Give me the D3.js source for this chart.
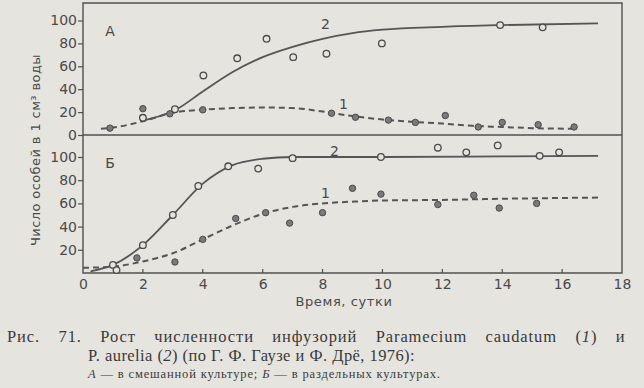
<!DOCTYPE html>
<html>
<head>
<meta charset="utf-8">
<script src="https://cdn.jsdelivr.net/npm/d3@7"></script>
<style>
  body { margin: 0; background: #e6e4df; }
  svg { display: block; }
  .sans { font-family: "DejaVu Sans", sans-serif; fill: #4a4a4a; }
  .serif { font-family: "Liberation Serif", serif; fill: #3a3a3a; }
</style>
</head>
<body>
<svg id="chart" width="644" height="388"></svg>
<script>
// days on the x axis (individuals per 1 cm3)
var xTicks = [0, 2, 4, 6, 8, 10, 12, 14, 16, 18];
var yTicksA = [0, 20, 40, 60, 80, 100];
var yTicksB = [20, 40, 60, 80, 100];

// A - mixed culture
var aAureliaPts = [[2.0,15],[3.07,22.5],[4.02,52],[5.15,67],[6.13,84],[7.02,68],[8.13,71],[9.98,80],[13.93,96],[15.35,94]];
var aAureliaCurve = [[2,12.5],[3.1,22],[4,38],[5,55],[6,68],[7,77],[8,84],[9,89],[10,92],[12,94.5],[14,96],[17.2,97.5]];
var aCaudatumPts = [[0.9,6],[2.0,23],[2.9,18.5],[4.0,22],[8.3,19],[9.1,15.5],[10.2,13],[11.1,11],[12.1,17],[13.2,7],[14.0,11],[15.2,9],[16.4,7]];
var aCaudatumCurve = [[0.6,5.5],[1,6.5],[2,12],[3,19.5],[4,22],[5,23.5],[6,24],[7,23.5],[8,20.5],[9,16.5],[10,13.5],[11,11.5],[12,10],[13,8],[14,7],[15,6],[16.4,5.5]];

// Б - separate cultures
var bAureliaPts = [[1.0,7],[1.12,2.5],[2.0,24],[3.0,50],[3.85,75],[4.85,92],[5.85,90],[7.0,99],[9.95,100],[11.85,108],[12.8,104],[13.85,110],[15.25,101],[15.9,104]];
var bAureliaCurve = [[0.25,1.5],[1,7],[2,24],[3,50],[4,77],[5,93],[6,98.5],[7,100],[10,100],[14,100.5],[17.2,101]];
var bCaudatumPts = [[1.8,13],[3.07,9.5],[4.0,29],[5.1,47],[6.1,52],[6.9,43],[8.0,52],[9.0,73],[9.95,68],[11.85,59],[13.05,67],[13.9,56],[15.15,60]];
var bCaudatumCurve = [[0,4.5],[1,5.5],[2,10],[3,17],[4,29],[5,41],[6,51],[7,57],[8,60],[9,61.5],[10,62.5],[12,63],[14,64],[17.2,65]];

var svg = d3.select('#chart');
var ink = '#505050';

var x = d3.scaleLinear().domain([0, 18]).range([83, 622]);
var yA = d3.scaleLinear().domain([0, 100]).range([135, 20.5]);
var yB = d3.scaleLinear().domain([0, 100]).range([273, 157]);
var frameTop = 3;

// frame
svg.append('path')
    .attr('d', 'M' + x(0) + ',' + frameTop + 'H' + x(18) + 'V' + yB(0) + 'H' + x(0) + 'Z')
    .attr('fill', 'none').attr('stroke', ink).attr('stroke-width', 1.4);
svg.append('line')
    .attr('x1', x(0)).attr('x2', x(18)).attr('y1', yA(0)).attr('y2', yA(0))
    .attr('stroke', ink).attr('stroke-width', 1.4);

// y axes (ticks pointing out)
function yAxis(scale, ticks) {
    var g = svg.append('g').attr('transform', 'translate(' + x(0) + ',0)')
        .call(d3.axisLeft(scale).tickValues(ticks).tickSize(5).tickPadding(1).tickFormat(d3.format('d')));
    g.select('.domain').remove();
    g.selectAll('line').attr('stroke', ink).attr('stroke-width', 1.2);
    g.selectAll('text').attr('class', 'sans').attr('font-size', 14).attr('fill', '#4a4a4a');
}
yAxis(yA, yTicksA);
yAxis(yB, yTicksB);

// x axis (ticks pointing in)
var gx = svg.append('g').attr('transform', 'translate(0,' + yB(0) + ')')
    .call(d3.axisBottom(x).tickValues(xTicks).tickSize(0).tickPadding(6).tickFormat(d3.format('d')));
gx.select('.domain').remove();
gx.selectAll('text').attr('class', 'sans').attr('font-size', 14).attr('fill', '#4a4a4a');
svg.append('g').selectAll('line').data(xTicks.slice(1, -1)).enter().append('line')
    .attr('x1', function(d){ return x(d); }).attr('x2', function(d){ return x(d); })
    .attr('y1', yB(0)).attr('y2', yB(0) - 4)
    .attr('stroke', ink).attr('stroke-width', 1.2);

// curves and points
function drawPanel(y, solidCurve, dashCurve, openPts, filledPts) {
    var line = d3.line()
        .x(function(d){ return x(d[0]); })
        .y(function(d){ return y(d[1]); })
        .curve(d3.curveMonotoneX);
    svg.append('path').datum(solidCurve).attr('d', line)
        .attr('fill', 'none').attr('stroke', '#555').attr('stroke-width', 1.8);
    svg.append('path').datum(dashCurve).attr('d', line)
        .attr('fill', 'none').attr('stroke', '#555').attr('stroke-width', 2)
        .attr('stroke-dasharray', '6,4');
    svg.append('g').selectAll('circle').data(openPts).enter().append('circle')
        .attr('cx', function(d){ return x(d[0]); }).attr('cy', function(d){ return y(d[1]); })
        .attr('r', 3.3).attr('fill', '#e6e4df').attr('stroke', '#4a4a4a').attr('stroke-width', 1.3);
    svg.append('g').selectAll('circle').data(filledPts).enter().append('circle')
        .attr('cx', function(d){ return x(d[0]); }).attr('cy', function(d){ return y(d[1]); })
        .attr('r', 3.2).attr('fill', '#7a7a7a').attr('stroke', '#4a4a4a').attr('stroke-width', 1);
}
drawPanel(yA, aAureliaCurve, aCaudatumCurve, aAureliaPts, aCaudatumPts);
drawPanel(yB, bAureliaCurve, bCaudatumCurve, bAureliaPts, bCaudatumPts);

// labels inside plot
function label(tx, ty, s) {
    svg.append('text').attr('class', 'sans').attr('x', tx).attr('y', ty)
        .attr('font-size', 14).attr('text-anchor', 'middle').text(s);
}
label(110, 36, 'А');
label(110, 168, 'Б');
label(x(8.1), yA(93), '2');
label(x(8.7), yA(23), '1');
label(x(8.4), yB(101), '2');
label(x(8.1), yB(65), '1');

// axis titles
svg.append('text').attr('class', 'sans')
    .attr('transform', 'translate(40,150) rotate(-90)')
    .attr('text-anchor', 'middle').attr('font-size', 13).attr('letter-spacing', 0.4)
    .text('Число особей в 1 см³ воды');
svg.append('text').attr('class', 'sans')
    .attr('x', 344).attr('y', 306).attr('text-anchor', 'middle')
    .attr('font-size', 13).attr('letter-spacing', 0.6)
    .text('Время, сутки');

// caption
var cap = svg.append('g').attr('class', 'serif').attr('font-size', 16.5).attr('letter-spacing', 0.9);
var l1 = cap.append('text').attr('x', 7).attr('y', 342);
l1.append('tspan').text('Рис. 71. Рост численности инфузорий Paramecium caudatum (');
l1.append('tspan').attr('font-style', 'italic').text('1');
l1.append('tspan').text(') и');
// justify line 1 by widening the word gaps only (9 gaps)
var natural = l1.node().getComputedTextLength();
l1.attr('word-spacing', (632 - natural) / 9);

var l2 = cap.append('text').attr('x', 88).attr('y', 361).attr('letter-spacing', 0.4);
l2.append('tspan').text('P. aurelia (');
l2.append('tspan').attr('font-style', 'italic').text('2');
l2.append('tspan').text(') (по Г. Ф. Гаузе и Ф. Дрё, 1976):');
var nat2 = l2.node().getComputedTextLength();
l2.attr('word-spacing', Math.max(0, (327 - nat2) / 10));

var l3 = cap.append('text').attr('x', 88).attr('y', 378).attr('font-size', 12.5)
    .attr('letter-spacing', 0).attr('textLength', 352).attr('lengthAdjust', 'spacing');
l3.append('tspan').attr('font-style', 'italic').text('А');
l3.append('tspan').text(' — в смешанной культуре; ');
l3.append('tspan').attr('font-style', 'italic').text('Б');
l3.append('tspan').text(' — в раздельных культурах.');
</script>
</body>
</html>
